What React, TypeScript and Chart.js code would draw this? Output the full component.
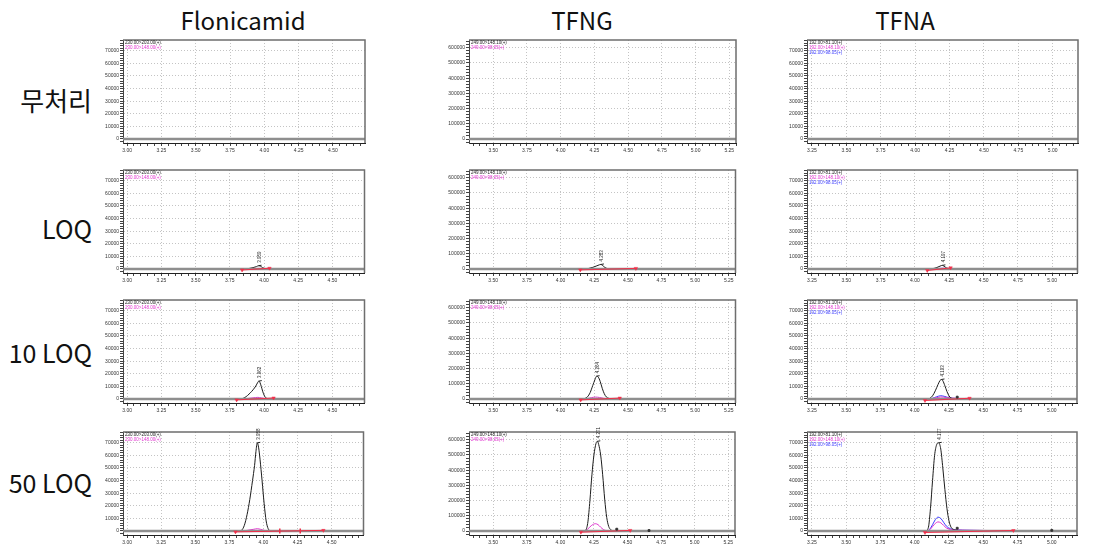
import React, { useEffect, useRef } from 'react';
import { Chart, registerables } from 'chart.js';

Chart.register(...registerables);

type P = [number, number];

// ---------- labels ----------
const compounds = ['Flonicamid', 'TFNG', 'TFNA'];
const levels = ['무처리', 'LOQ', '10 LOQ', '50 LOQ'];
const legendFlo = ['230.00>203.00(+)', '230.00>148.00(+)'];
const legendTfng = ['249.00>148.10(+)', '249.00>98.05(+)'];
const legendTfna = ['192.00>81.10(+)', '192.00>148.10(+)', '192.00>98.05(+)'];

// ---------- axis ranges / ticks ----------
const xRanges: P[] = [[2.97, 4.734], [3.32, 5.3], [3.214, 5.184]];
const yRanges: P[] = [[-3175, 78570], [-26300, 651300], [-3175, 78570]];
const xLabelStep = 0.25;
const xMinorStep = 0.05;
const yLabelStep = [10000, 100000, 10000];
const yMinorStep = [2000, 20000, 2000];

// ---------- Flonicamid ----------
const flo0_q: P[] = [[2.97, 0], [4.734, 0]];
const flo0_i: P[] = [[2.97, 0], [4.734, 0]];
const flo1_q: P[] = [[2.97, 0], [3.86, 0], [3.89, 400], [3.92, 1100], [3.945, 1900], [3.96, 2600], [3.975, 2200], [3.99, 1100], [4.01, 300], [4.04, 0], [4.734, 0]];
const flo1_i: P[] = [[2.97, 0], [3.88, 0], [3.93, 300], [3.96, 450], [3.99, 250], [4.03, 0], [4.734, 0]];
const flo1_red: P[] = [[3.84, -800], [4.04, 600]];
const flo2_q: P[] = [[2.97, 0], [3.82, 0], [3.84, 300], [3.86, 1200], [3.88, 2800], [3.9, 4900], [3.92, 7300], [3.94, 10300], [3.955, 13300], [3.962, 14200], [3.97, 13200], [3.98, 10000], [3.99, 6200], [4.0, 3200], [4.01, 1300], [4.025, 400], [4.05, 0], [4.734, 0]];
const flo2_i: P[] = [[2.97, 0], [3.84, 0], [3.88, 400], [3.92, 900], [3.955, 1300], [3.98, 900], [4.01, 300], [4.05, 0], [4.734, 0]];
const flo2_red: P[] = [[3.8, -700], [4.07, 800]];
const flo3_q: P[] = [[2.97, 0], [3.82, 0], [3.84, 600], [3.86, 4500], [3.88, 13000], [3.9, 25000], [3.92, 40000], [3.935, 52000], [3.945, 63000], [3.955, 70000], [3.965, 66000], [3.975, 57000], [3.99, 40000], [4.005, 22000], [4.02, 8000], [4.035, 1800], [4.05, 300], [4.08, 0], [4.734, 0]];
const flo3_i: P[] = [[2.97, 0], [3.83, 0], [3.88, 500], [3.93, 1400], [3.955, 1800], [3.98, 1300], [4.01, 400], [4.05, 0], [4.734, 0]];
const flo3_red: P[] = [[3.795, -700], [4.44, 500]];
const flo3_ticks: P[] = [[4.12, 0], [4.27, 0]];

// ---------- TFNG ----------
const tfng0_q: P[] = [[3.32, 0], [5.3, 0]];
const tfng0_i: P[] = [[3.32, 0], [5.3, 0]];
const tfng1_q: P[] = [[3.32, 0], [4.18, 0], [4.21, 4000], [4.24, 11000], [4.27, 21000], [4.29, 28000], [4.3, 30000], [4.31, 25000], [4.33, 10000], [4.35, 2500], [4.38, 0], [5.3, 0]];
const tfng1_i: P[] = [[3.32, 0], [4.2, 0], [4.25, 2000], [4.29, 3500], [4.32, 2000], [4.36, 0], [5.3, 0]];
const tfng1_red: P[] = [[4.147, -6000], [4.56, 4000]];
const tfng2_q: P[] = [[3.32, 0], [4.16, 0], [4.18, 3000], [4.2, 14000], [4.22, 42000], [4.24, 90000], [4.255, 126000], [4.268, 150000], [4.28, 145000], [4.295, 115000], [4.31, 70000], [4.325, 35000], [4.34, 14000], [4.36, 4000], [4.39, 0], [5.3, 0]];
const tfng2_i: P[] = [[3.32, 0], [4.17, 0], [4.2, 3000], [4.23, 9000], [4.26, 12500], [4.29, 10000], [4.32, 4500], [4.35, 1200], [4.38, 0], [5.3, 0]];
const tfng2_red: P[] = [[4.15, -6000], [4.44, 6000]];
const tfng3_q: P[] = [[3.32, 0], [4.17, 0], [4.19, 8000], [4.205, 60000], [4.22, 200000], [4.235, 370000], [4.25, 500000], [4.265, 575000], [4.275, 590000], [4.285, 570000], [4.3, 500000], [4.315, 370000], [4.33, 210000], [4.345, 90000], [4.36, 30000], [4.375, 9000], [4.4, 2000], [4.43, 0], [5.3, 0]];
const tfng3_i: P[] = [[3.32, 0], [4.17, 0], [4.2, 10000], [4.23, 35000], [4.26, 48000], [4.28, 42000], [4.3, 25000], [4.32, 10000], [4.34, 3000], [4.37, 0], [5.3, 0]];
const tfng3_red: P[] = [[4.153, -8000], [4.52, 4000]];
const tfng3_black: P[] = [[4.42, 12000], [4.66, 3000]];

// ---------- TFNA ----------
const tfna0_q: P[] = [[3.214, 0], [5.184, 0]];
const tfna0_i: P[] = [[3.214, 0], [5.184, 0]];
const tfna0_b: P[] = [[3.214, 0], [5.184, 0]];
const tfna1_q: P[] = [[3.214, 0], [4.1, 0], [4.13, 300], [4.16, 1200], [4.19, 2600], [4.2, 2900], [4.21, 2300], [4.23, 900], [4.25, 200], [4.28, 0], [5.184, 0]];
const tfna1_i: P[] = [[3.214, 0], [4.12, 0], [4.17, 300], [4.2, 450], [4.24, 200], [4.28, 0], [5.184, 0]];
const tfna1_b: P[] = [[3.214, 0], [4.12, 0], [4.17, 400], [4.2, 600], [4.24, 300], [4.28, 0], [5.184, 0]];
const tfna1_red: P[] = [[4.09, -1200], [4.26, 900]];
const tfna2_q: P[] = [[3.214, 0], [4.09, 0], [4.11, 500], [4.13, 2500], [4.15, 6500], [4.17, 11500], [4.185, 14800], [4.195, 15500], [4.205, 14500], [4.22, 10500], [4.235, 6000], [4.25, 2500], [4.265, 800], [4.28, 200], [4.3, 0], [5.184, 0]];
const tfna2_i: P[] = [[3.214, 0], [4.11, 0], [4.15, 800], [4.19, 1600], [4.23, 1200], [4.28, 600], [4.35, 300], [4.4, 0], [5.184, 0]];
const tfna2_b: P[] = [[3.214, 0], [4.1, 0], [4.13, 600], [4.16, 1800], [4.19, 2600], [4.22, 2000], [4.25, 1000], [4.3, 500], [4.38, 200], [4.42, 0], [5.184, 0]];
const tfna2_red: P[] = [[4.075, -1200], [4.4, 600]];
const tfna2_black: P[] = [[4.31, 1500]];
const tfna3_q: P[] = [[3.214, 0], [4.08, 0], [4.1, 3000], [4.115, 18000], [4.13, 40000], [4.145, 60000], [4.16, 68500], [4.175, 70000], [4.19, 65000], [4.205, 50000], [4.22, 33000], [4.235, 18000], [4.25, 8000], [4.265, 3000], [4.29, 1000], [4.32, 300], [4.36, 0], [5.184, 0]];
const tfna3_i: P[] = [[3.214, 0], [4.09, 0], [4.11, 1000], [4.13, 3500], [4.15, 6000], [4.17, 7200], [4.19, 6500], [4.21, 4500], [4.23, 2500], [4.26, 1200], [4.3, 800], [4.45, 500], [4.6, 300], [4.72, 0], [5.184, 0]];
const tfna3_b: P[] = [[3.214, 0], [4.09, 0], [4.11, 1500], [4.13, 5000], [4.15, 9000], [4.17, 11000], [4.19, 10000], [4.21, 7000], [4.23, 4000], [4.26, 1800], [4.3, 1000], [4.4, 600], [4.55, 300], [4.72, 0], [5.184, 0]];
const tfna3_red: P[] = [[4.075, -1200], [4.72, 400]];
const tfna3_black: P[] = [[4.31, 2200], [5.0, 500]];

// ---------- peak labels (retention times) ----------
const peakTimes = [
  [null, [3.96, 2600, '3.959'], [3.962, 14200, '3.962'], [3.955, 70000, '3.958']],
  [null, [4.3, 30000, '4.283'], [4.268, 150000, '4.264'], [4.275, 590000, '4.271']],
  [null, [4.2, 2900, '4.197'], [4.195, 15500, '4.193'], [4.175, 70000, '4.177']],
] as ([number, number, string] | null)[][];

// ---------- styles ----------
const C_Q = '#1c1c1c';
const C_I = '#e033cf';
const C_B = '#3b3bff';
const C_RED = '#f0304a';
const C_BASE = '#8e8e8e';
const C_GRID = '#c4c4c4';
const legendColors = [C_Q, C_I, C_B];
const TICK_FONT = '"Liberation Sans", "DejaVu Sans", sans-serif';

// ---------- layout ----------
const colLeft = [123, 469, 807];
const colRight = [365, 736, 1078];
const rowTop = [40, 170, 300, 432];
const rowAxis = [143, 273, 403, 535];
const YW = 40;
const PT = 14;
const PR = 4;
const XH = 14;
const titleCenters = [243, 582, 905];
const levelCenters = [100, 228, 352, 482];
const levelSizes = [26, 25, 25, 25];

interface Spec {
  col: number;
  row: number;
  traces: { data: P[]; color: string }[];
  red: P[];
  redTicks: P[];
  black: P[];
  legend: string[];
  peak: [number, number, string] | null;
}

const tracesTable: P[][][][] = [
  [[flo0_q, flo0_i], [flo1_q, flo1_i], [flo2_q, flo2_i], [flo3_q, flo3_i]],
  [[tfng0_q, tfng0_i], [tfng1_q, tfng1_i], [tfng2_q, tfng2_i], [tfng3_q, tfng3_i]],
  [[tfna0_q, tfna0_i, tfna0_b], [tfna1_q, tfna1_i, tfna1_b], [tfna2_q, tfna2_i, tfna2_b], [tfna3_q, tfna3_i, tfna3_b]],
];
const redTable: P[][][] = [
  [[], flo1_red, flo2_red, flo3_red],
  [[], tfng1_red, tfng2_red, tfng3_red],
  [[], tfna1_red, tfna2_red, tfna3_red],
];
const redTickTable: P[][][] = [
  [[], [], [], flo3_ticks],
  [[], [], [], []],
  [[], [], [], []],
];
const blackTable: P[][][] = [
  [[], [], [], []],
  [[], [], [], tfng3_black],
  [[], [], tfna2_black, tfna3_black],
];
const legendTable = [legendFlo, legendTfng, legendTfna];

const specs: Spec[] = [];
for (let r = 0; r < 4; r++) {
  for (let c = 0; c < 3; c++) {
    specs.push({
      col: c,
      row: r,
      traces: tracesTable[c][r].map((d, i) => ({ data: d, color: legendColors[i] })),
      red: redTable[c][r],
      redTicks: redTickTable[c][r],
      black: blackTable[c][r],
      legend: legendTable[c],
      peak: peakTimes[c][r],
    });
  }
}

const isMult = (v: number, s: number) => Math.abs(v / s - Math.round(v / s)) < 1e-6;
const toXY = (a: P[]) => a.map(([x, y]) => ({ x, y }));

// tick positions: every multiple of the minor step inside the range
function tickValues(min: number, max: number, step: number): { value: number }[] {
  const out: { value: number }[] = [];
  const k0 = Math.ceil(min / step - 1e-9);
  const k1 = Math.floor(max / step + 1e-9);
  for (let k = k0; k <= k1; k++) out.push({ value: Math.round(k * step * 1000) / 1000 });
  return out;
}

function Panel({ spec }: { spec: Spec }) {
  const ref = useRef<HTMLCanvasElement>(null);
  const c = spec.col;
  const r = spec.row;
  const w = colRight[c] - colLeft[c] + YW + PR;
  const h = rowAxis[r] - rowTop[r] + PT + XH;

  useEffect(() => {
    const [xmin, xmax] = xRanges[c];
    const [ymin, ymax] = yRanges[c];
    const datasets: any[] = [];
    spec.traces.forEach((t, i) => {
      datasets.push({
        data: toXY(t.data),
        borderColor: t.color,
        borderWidth: 1,
        pointRadius: 0,
        cubicInterpolationMode: 'monotone',
        order: 6 - (i === 0 ? 1 : 0),
      });
    });
    datasets.push({
      data: toXY([[xmin, 0], [xmax, 0]]),
      borderColor: C_BASE,
      borderWidth: 2.5,
      pointRadius: 0,
      order: 4,
    });
    if (spec.red.length) {
      datasets.push({
        data: toXY(spec.red),
        borderColor: C_RED,
        borderWidth: 1,
        pointRadius: 0,
        order: 3,
      });
      datasets.push({
        data: toXY(spec.red),
        showLine: false,
        pointStyle: 'triangle',
        rotation: 180,
        pointRadius: 2,
        pointBackgroundColor: C_RED,
        pointBorderColor: C_RED,
        pointBorderWidth: 0.5,
        order: 1,
      });
    }
    if (spec.redTicks.length) {
      datasets.push({
        data: toXY(spec.redTicks),
        showLine: false,
        pointStyle: 'line',
        rotation: 90,
        pointRadius: 2.5,
        pointBorderColor: C_RED,
        pointBorderWidth: 1.5,
        order: 1,
      });
    }
    if (spec.black.length) {
      datasets.push({
        data: toXY(spec.black),
        showLine: false,
        pointStyle: 'rect',
        pointRadius: 1.3,
        pointBackgroundColor: '#333',
        pointBorderColor: '#333',
        order: 1,
      });
    }

    const overlay = {
      id: 'overlay' + c + r,
      afterDatasetsDraw(chart: any) {
        const { ctx, chartArea: a, scales } = chart;
        ctx.save();
        ctx.strokeStyle = '#6e6e6e';
        ctx.lineWidth = 1.5;
        ctx.beginPath();
        ctx.moveTo(a.left, a.top);
        ctx.lineTo(a.right, a.top);
        ctx.lineTo(a.right, a.bottom);
        ctx.stroke();
        ctx.font = '4.5px ' + TICK_FONT;
        ctx.textBaseline = 'middle';
        ctx.textAlign = 'left';
        spec.legend.forEach((t, i) => {
          ctx.fillStyle = legendColors[i];
          ctx.fillText(t, a.left + 2, a.top + 2.5 + i * 5);
        });
        if (spec.peak) {
          const px = scales.x.getPixelForValue(spec.peak[0]);
          const py = scales.y.getPixelForValue(spec.peak[1]);
          ctx.strokeStyle = '#222';
          ctx.lineWidth = 1;
          ctx.beginPath();
          ctx.moveTo(px, py);
          ctx.lineTo(px + 3, py - 0.5);
          ctx.stroke();
          ctx.translate(px + 1, py - 3);
          ctx.rotate(-Math.PI / 2);
          ctx.fillStyle = '#222';
          ctx.font = '4.5px ' + TICK_FONT;
          ctx.textAlign = 'left';
          ctx.textBaseline = 'middle';
          ctx.fillText(spec.peak[2], 0, 0);
        }
        ctx.restore();
      },
    };

    const chart = new Chart(ref.current as HTMLCanvasElement, {
      type: 'line',
      data: { datasets },
      options: {
        animation: false,
        responsive: false,
        maintainAspectRatio: false,
        devicePixelRatio: 1,
        events: [],
        layout: { padding: { top: PT, right: PR, left: 0, bottom: 0 } },
        plugins: { legend: { display: false }, tooltip: { enabled: false } },
        scales: {
          x: {
            type: 'linear',
            min: xmin,
            max: xmax,
            afterBuildTicks: (s: any) => {
              s.ticks = tickValues(xmin, xmax, xMinorStep);
            },
            afterFit: (s: any) => {
              s.height = XH;
              s.paddingLeft = 0;
              s.paddingRight = 0;
            },
            ticks: {
              autoSkip: false,
              maxRotation: 0,
              minRotation: 0,
              padding: 2,
              color: '#333',
              font: { family: TICK_FONT, size: 5 },
              callback: (v: any) => (isMult(Number(v), xLabelStep) ? Number(v).toFixed(2) : ''),
            },
            grid: {
              color: (ctx: any) => (ctx.tick && isMult(ctx.tick.value, xLabelStep) ? C_GRID : 'rgba(0,0,0,0)'),
              tickColor: '#444',
              tickLength: 3,
              lineWidth: 1,
            },
            border: { display: true, color: '#222', width: 1, dash: [1, 2] },
          },
          y: {
            type: 'linear',
            min: ymin,
            max: ymax,
            afterBuildTicks: (s: any) => {
              s.ticks = tickValues(ymin, ymax, yMinorStep[c]);
            },
            afterFit: (s: any) => {
              s.width = YW;
              s.paddingTop = 0;
              s.paddingBottom = 0;
            },
            ticks: {
              autoSkip: false,
              padding: 1,
              color: '#333',
              font: { family: TICK_FONT, size: 5 },
              callback: (v: any) => (isMult(Number(v), yLabelStep[c]) ? String(Math.round(Number(v))) : ''),
            },
            grid: {
              color: (ctx: any) => (ctx.tick && isMult(ctx.tick.value, yLabelStep[c]) ? C_GRID : 'rgba(0,0,0,0)'),
              tickColor: '#444',
              tickLength: 3,
              lineWidth: 1,
            },
            border: { display: true, color: '#444', width: 1, dash: [1, 2] },
          },
        },
      } as any,
      plugins: [overlay as any],
    });
    return () => chart.destroy();
  }, []);

  return (
    <canvas
      ref={ref}
      width={w}
      height={h}
      style={{ position: 'absolute', left: colLeft[c] - YW, top: rowTop[r] - PT, width: w, height: h }}
    />
  );
}

export default function App() {
  return (
    <div
      style={{
        position: 'fixed',
        left: 0,
        top: 0,
        width: 1098,
        height: 560,
        background: '#fff',
        overflow: 'hidden',
        fontFamily: '"Noto Sans CJK KR", "Noto Sans", sans-serif',
        color: '#111',
      }}
    >
      {compounds.map((t, i) => (
        <div
          key={t}
          style={{
            position: 'absolute',
            left: titleCenters[i] - 100,
            width: 200,
            top: 5,
            height: 30,
            lineHeight: '30px',
            fontSize: 24,
            textAlign: 'center',
            whiteSpace: 'nowrap',
          }}
        >
          {t}
        </div>
      ))}
      {levels.map((t, i) => (
        <div
          key={t}
          style={{
            position: 'absolute',
            right: 1098 - 92,
            top: levelCenters[i] - 15,
            height: 30,
            lineHeight: '30px',
            fontSize: levelSizes[i],
            textAlign: 'right',
            whiteSpace: 'nowrap',
          }}
        >
          {t}
        </div>
      ))}
      {specs.map((s) => (
        <Panel key={s.col + '-' + s.row} spec={s} />
      ))}
    </div>
  );
}
